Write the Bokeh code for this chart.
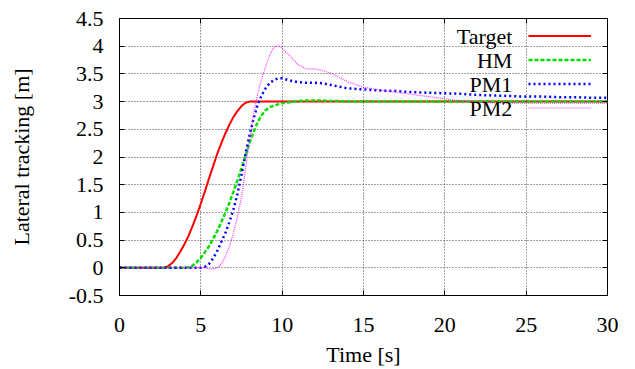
from bokeh.plotting import figure
from bokeh.models import (FixedTicker, LinearAxis, Legend, LegendItem, Label, Range1d,
                          CustomJSTickFormatter)
from bokeh.core.properties import value
from bokeh.embed import file_html
from bokeh.resources import INLINE

# ---------------- data ----------------
time = [0, 1, 2,
        2.5, 2.75, 3, 3.25, 3.5, 3.75, 4, 4.25, 4.5, 4.75, 5, 5.25, 5.5, 5.75, 6, 6.25,
        6.5, 6.75, 7, 7.25, 7.5, 7.75, 8, 8.25, 8.5, 8.75, 9, 9.25, 9.5, 9.75, 10,
        10.5, 11, 11.5, 12, 12.5, 13, 13.5, 14,
        15, 16, 17, 18, 19, 20, 21, 22, 23, 24, 25, 26, 27, 28, 29, 30]

target = [0, 0, 0,
          0, 0, 0.03, 0.09, 0.18, 0.30, 0.43, 0.58, 0.76, 0.95, 1.16, 1.38, 1.61, 1.83, 2.05, 2.24,
          2.42, 2.58, 2.72, 2.83, 2.92, 2.98, 3.0, 3.0, 3.0, 3.0, 3.0, 3.0, 3.0, 3.0, 3.0,
          3.0, 3.0, 3.0, 3.0, 3.0, 3.0, 3.0, 3.0,
          3.0, 3.0, 3.0, 3.0, 3.0, 3.0, 3.0, 3.0, 3.0, 3.0, 3.0, 3.0, 3.0, 3.0, 3.0, 3.0]

hm = [0, 0, 0,
      0, 0, 0, 0, 0, 0, 0, 0.01, 0.04, 0.10, 0.18, 0.28, 0.39, 0.52, 0.66, 0.82,
      0.99, 1.17, 1.37, 1.58, 1.80, 2.03, 2.26, 2.46, 2.63, 2.76, 2.85, 2.90, 2.93, 2.95, 2.97,
      2.99, 3.01, 3.02, 3.02, 3.02, 3.01, 3.01, 3.0,
      3.0, 3.0, 3.0, 3.0, 3.0, 3.0, 3.0, 3.0, 3.0, 3.0, 3.0, 3.0, 3.0, 3.0, 3.0, 3.0]

pm1 = [0, 0, 0,
       0, 0, 0, 0, 0, 0, 0, 0, 0, 0, 0, 0.02, 0.07, 0.17, 0.30, 0.46,
       0.62, 0.82, 1.05, 1.33, 1.68, 2.06, 2.40, 2.70, 2.95, 3.12, 3.25, 3.34, 3.39, 3.42, 3.42,
       3.38, 3.35, 3.34, 3.34, 3.33, 3.30, 3.27, 3.24,
       3.22, 3.20, 3.19, 3.17, 3.16, 3.15, 3.14, 3.12, 3.11, 3.10, 3.09, 3.09, 3.08, 3.08, 3.07, 3.07]

pm2 = [0, 0, 0,
       0, 0, 0, 0, 0, 0, 0, 0, 0, 0, 0, 0, -0.02, -0.02, 0.0, 0.06,
       0.20, 0.38, 0.62, 0.92, 1.27, 1.80, 2.30, 2.78, 3.15, 3.42, 3.65, 3.85, 3.98, 4.02, 3.96,
       3.82, 3.66, 3.59, 3.59, 3.56, 3.51, 3.44, 3.36,
       3.26, 3.21, 3.17, 3.13, 3.09, 3.05, 3.01, 2.99, 2.98, 2.97, 2.97, 2.97, 2.97, 2.97, 2.97, 2.97]

series_names = ["Target", "HM", "PM1", "PM2"]

x_ticks = [0, 5, 10, 15, 20, 25, 30]
x_tick_labels = ["0", "5", "10", "15", "20", "25", "30"]
y_ticks = [-0.5, 0, 0.5, 1, 1.5, 2, 2.5, 3, 3.5, 4, 4.5]
y_tick_labels = ["-0.5", "0", "0.5", "1", "1.5", "2", "2.5", "3", "3.5", "4", "4.5"]

# ---------------- figure ----------------
FONT = "Liberation Serif"
FS = "22px"

p = figure(width=635, height=369, x_range=Range1d(0, 30), y_range=Range1d(-0.5, 4.5),
           output_backend="svg", toolbar_location=None,
           min_border_left=119, min_border_right=28, min_border_top=18, min_border_bottom=73)
p.background_fill_color = "white"
p.border_fill_color = "white"
p.outline_line_color = "black"
p.outline_line_width = 1
p.outline_line_alpha = 1

LABEL_JS = """
let best = 0;
for (let i = 0; i < tvals.length; i++) {
  if (Math.abs(tvals[i] - tick) < Math.abs(tvals[best] - tick)) best = i;
}
return tlabels[best];
"""

xa = p.below[0]
ya = p.left[0]
xa.ticker = FixedTicker(ticks=x_ticks)
ya.ticker = FixedTicker(ticks=y_ticks)
xa.formatter = CustomJSTickFormatter(args=dict(tvals=x_ticks, tlabels=x_tick_labels), code=LABEL_JS)
ya.formatter = CustomJSTickFormatter(args=dict(tvals=y_ticks, tlabels=y_tick_labels), code=LABEL_JS)
for ax in (xa, ya):
    ax.major_label_text_font = FONT
    ax.major_label_text_font_size = FS
    ax.major_label_text_font_style = "normal"
    ax.major_label_text_color = "black"
    ax.axis_label_text_font = FONT
    ax.axis_label_text_font_size = FS
    ax.axis_label_text_font_style = "normal"
    ax.axis_label_text_color = "black"
    ax.major_tick_in = 5
    ax.major_tick_out = 0
    ax.major_tick_line_color = "black"
    ax.minor_tick_line_color = None
    ax.axis_line_color = "black"
xa.axis_label = "Time [s]"
ya.axis_label = "Lateral tracking [m]"
xa.major_label_standoff = 22
ya.major_label_standoff = 16
xa.axis_label_standoff = 7
ya.axis_label_standoff = 32

top = LinearAxis(ticker=FixedTicker(ticks=x_ticks), major_label_text_font_size="0px",
                 major_tick_in=5, major_tick_out=0, minor_tick_line_color=None,
                 axis_line_color=None, major_label_standoff=0, major_tick_line_color="black")
p.add_layout(top, "above")
right = LinearAxis(ticker=FixedTicker(ticks=y_ticks), major_label_text_font_size="0px",
                   major_tick_in=5, major_tick_out=0, minor_tick_line_color=None,
                   axis_line_color=None, major_label_standoff=0, major_tick_line_color="black")
p.add_layout(right, "right")

for g in (p.xgrid[0], p.ygrid[0]):
    g.grid_line_color = "#444444"
    g.grid_line_dash = "1 2"
    g.grid_line_width = 1

# ---------------- curves ----------------
r_target = p.line(time, target, line_color="#ff0000", line_width=2)
r_hm = p.line(time, hm, line_color="#00e000", line_width=2.5, line_dash="4 2")
r_pm1 = p.line(time, pm1, line_color="#0000ff", line_width=2.5, line_dash="2 3")
r_pm2 = p.line(time, pm2, line_color="#ff00ff", line_width=1.2, line_dash="1 1", line_alpha=0.8)

# ---------------- gnuplot-style key (text left, sample right) ----------------
legend = Legend(items=[LegendItem(label=value(" "), renderers=[r])
                       for r in (r_target, r_hm, r_pm1, r_pm2)],
                location=(409, 177), orientation="vertical",
                glyph_width=63, glyph_height=21, label_width=0, label_height=0,
                label_standoff=0, spacing=3, padding=0, margin=0,
                border_line_color=None, background_fill_alpha=0,
                label_text_font_size="1px")
p.add_layout(legend)

frame_h = 296 - 18
key_top_px = 36.5 - 18
row_px = 24
for i, name in enumerate(series_names):
    ypx = key_top_px + i * row_px
    ydata = 4.5 - ypx * 5.0 / frame_h
    p.add_layout(Label(x=24.15, y=ydata, text=name, text_align="right", text_baseline="middle",
                       text_font=FONT, text_font_size=FS, text_color="black"))

open("out.html", "w").write(file_html(p, INLINE))
